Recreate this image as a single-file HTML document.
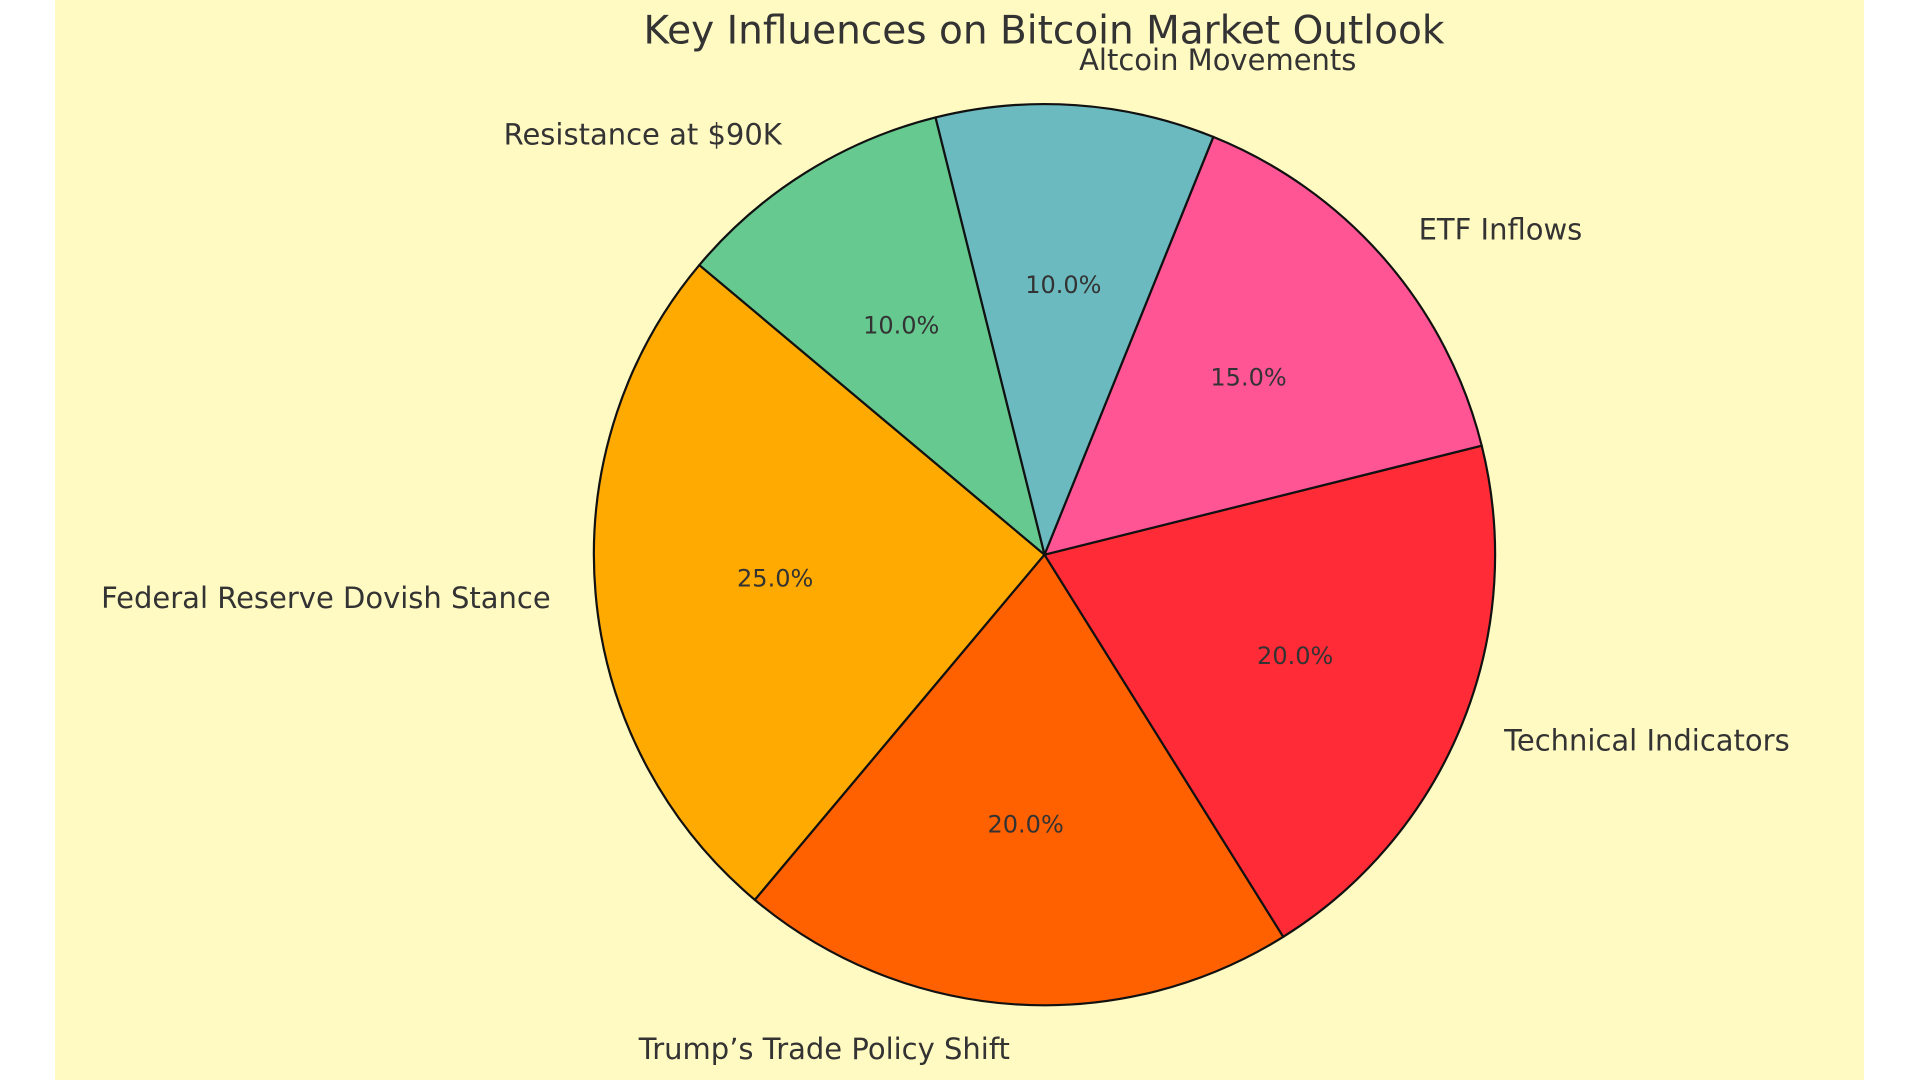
<!DOCTYPE html>
<html><head><meta charset="utf-8">
<style>
html,body{margin:0;padding:0;background:#fff;}
svg{display:block;font-family:"DejaVu Sans","Liberation Sans",sans-serif;}
</style></head>
<body>
<svg id="chart" width="1920" height="1080" viewBox="0 0 1920 1080" xmlns="http://www.w3.org/2000/svg">
<rect x="55" y="0" width="1809" height="1080" fill="#fff9c2"/>
<text x="1044" y="31" font-size="39" fill="#333" text-anchor="middle" dominant-baseline="central">Key Influences on Bitcoin Market Outlook</text>
<g id="slices"></g>
<g id="labels"></g>
</svg>
<script>
const categories = ["Federal Reserve Dovish Stance","Trump’s Trade Policy Shift","Technical Indicators","ETF Inflows","Altcoin Movements","Resistance at $90K"];
const values = [25,20,20,15,10,10];
const colors = ["#ffaa00","#ff6100","#ff2b37","#ff5595","#6bbac0","#66c98f"];
const startAngle = 140;
const cx = 1044.5, cy = 554.7, r = 450.6;
const NS = "http://www.w3.org/2000/svg";
const total = values.reduce((a,b)=>a+b,0);
const gS = document.getElementById('slices'), gL = document.getElementById('labels');
function pt(deg, rad){const a=deg*Math.PI/180;return [cx+rad*Math.cos(a), cy-rad*Math.sin(a)];}
let ang = startAngle;
values.forEach((v,i)=>{
  const sweep = v/total*360;
  const a0 = ang, a1 = ang+sweep;
  const p0 = pt(a0,r), p1 = pt(a1,r);
  const large = sweep>180?1:0;
  const path = document.createElementNS(NS,'path');
  path.setAttribute('d',`M${cx},${cy} L${p0[0]},${p0[1]} A${r},${r} 0 ${large} 0 ${p1[0]},${p1[1]} Z`);
  path.setAttribute('fill',colors[i]);
  path.setAttribute('stroke','#111');
  path.setAttribute('stroke-width','2.2');
  path.setAttribute('stroke-linejoin','round');
  
  
  gS.appendChild(path);
  const mid = (a0+a1)/2;
  const lp = pt(mid, r*1.1);
  const t = document.createElementNS(NS,'text');
  t.setAttribute('x',lp[0]); t.setAttribute('y',lp[1]);
  t.setAttribute('font-size','29'); t.setAttribute('fill','#333');
  t.setAttribute('dominant-baseline','central');
  t.setAttribute('text-anchor', Math.cos(mid*Math.PI/180)>=0?'start':'end');
  t.textContent = categories[i];
  
  
  gL.appendChild(t);
  const pp = pt(mid, r*0.6);
  const tp = document.createElementNS(NS,'text');
  tp.setAttribute('x',pp[0]); tp.setAttribute('y',pp[1]);
  tp.setAttribute('font-size','24'); tp.setAttribute('fill','#333');
  tp.setAttribute('dominant-baseline','central');
  tp.setAttribute('text-anchor','middle');
  tp.textContent = (v/total*100).toFixed(1)+'%';
  
  
  gL.appendChild(tp);
  ang = a1;
});
</script>
</body></html>
